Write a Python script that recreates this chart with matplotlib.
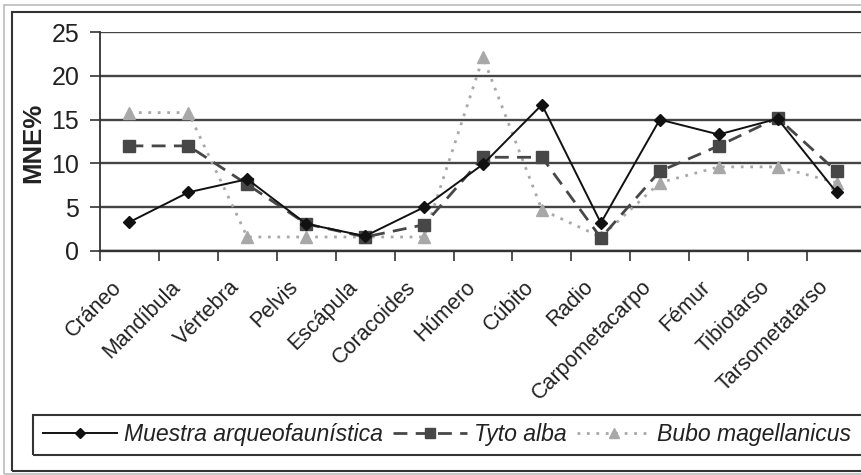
import numpy as np
import matplotlib.pyplot as plt
from matplotlib.patches import Rectangle
from matplotlib.transforms import ScaledTranslation, blended_transform_factory

plt.rcParams['font.family'] = ['Liberation Sans', 'DejaVu Sans']

# Data
categorias = ["Cráneo", "Mandíbula", "Vértebra", "Pelvis", "Escápula",
              "Coracoides", "Húmero", "Cúbito", "Radio", "Carpometacarpo",
              "Fémur", "Tibiotarso", "Tarsometatarso"]
muestra = [3.3, 6.7, 8.2, 3.1, 1.7, 5.0, 9.9, 16.7, 3.2, 15.0, 13.3, 15.1, 6.7]
tyto = [12.0, 12.0, 7.6, 3.1, 1.6, 3.0, 10.7, 10.7, 1.5, 9.1, 12.0, 15.2, 9.1]
bubo = [15.8, 15.8, 1.6, 1.6, 1.6, 1.6, 22.1, 4.7, 1.6, 7.8, 9.6, 9.6, 7.8]

fig = plt.figure(figsize=(8.61, 4.75), dpi=100)
W, H = 861, 475
ax = fig.add_axes([100 / W, 1 - 251 / H, 766 / W, 219 / H])

x = np.arange(len(categorias))
ax.plot(x, muestra, color="#111111", lw=1.4, marker="D", ms=6.5,
        label="Muestra arqueofaunística", zorder=5)
ax.plot(x, tyto, color="#474747", lw=2.0, ls=(0, (5, 3)), marker="s", ms=8.5,
        label="Tyto alba", zorder=4)
ax.plot(x, bubo, color="#a8a8a8", lw=2.0, ls=(0, (1, 2.4)), marker="^", ms=9,
        label="Bubo magellanicus", zorder=3)

ax.set_xlim(-0.5, len(categorias) - 0.5)
ax.set_ylim(0, 25)
ax.set_yticks(range(0, 26, 5))
ax.yaxis.grid(True, color="#444444", lw=1.7)
ax.set_axisbelow(True)
for s in ["top", "right"]:
    ax.spines[s].set_visible(False)
ax.spines["left"].set_color("#333333")
ax.spines["left"].set_linewidth(1.3)
ax.spines["bottom"].set_color("#333333")
ax.spines["bottom"].set_linewidth(1.7)
ax.tick_params(axis="y", length=7, width=1.2, color="#333333", pad=8,
               labelsize=18, labelcolor="#222222")
ax.set_xticks(np.arange(-0.5, len(categorias), 1))
ax.set_xticklabels([])
ax.tick_params(axis="x", length=7, width=1.2, color="#333333")

# rotated category labels, Excel style
trans = blended_transform_factory(ax.transData, ax.transAxes) + \
    ScaledTranslation(-11 / 100, -33 / 100, fig.dpi_scale_trans)
for i, c in enumerate(categorias):
    ax.text(i, 0, c, transform=trans, rotation=45, rotation_mode="anchor",
            ha="right", va="center", fontsize=15.5, color="#222222")

fig.text(33 / W, 1 - 143 / H, "MNE%", rotation=90, ha="center", va="center",
         fontsize=18.5, fontweight="bold", color="#222222")

fig.legend(loc="center left", bbox_to_anchor=(43 / W, 1 - 435 / H), ncol=3,
           frameon=False, prop={"size": 16.6, "style": "italic"},
           handlelength=3.2, handletextpad=0.3, columnspacing=0.45,
           borderpad=0, borderaxespad=0, markerscale=0.85, labelcolor="#222222")

# frames
fig.add_artist(Rectangle((33 / W, 1 - 455 / H), (875 - 33) / W, 40 / H,
                         transform=fig.transFigure, fill=False, ec="#333333", lw=1.5))
fig.add_artist(Rectangle((12 / W, 1 - 470.5 / H), (875 - 12) / W, 459 / H,
                         transform=fig.transFigure, fill=False, ec="#333333", lw=1.5))
fig.add_artist(Rectangle((4 / W, 1 - 474 / H), (875 - 4) / W, 469 / H,
                         transform=fig.transFigure, fill=False, ec="#bbbbbb", lw=1.2))

fig.savefig("out.png", dpi=100)
